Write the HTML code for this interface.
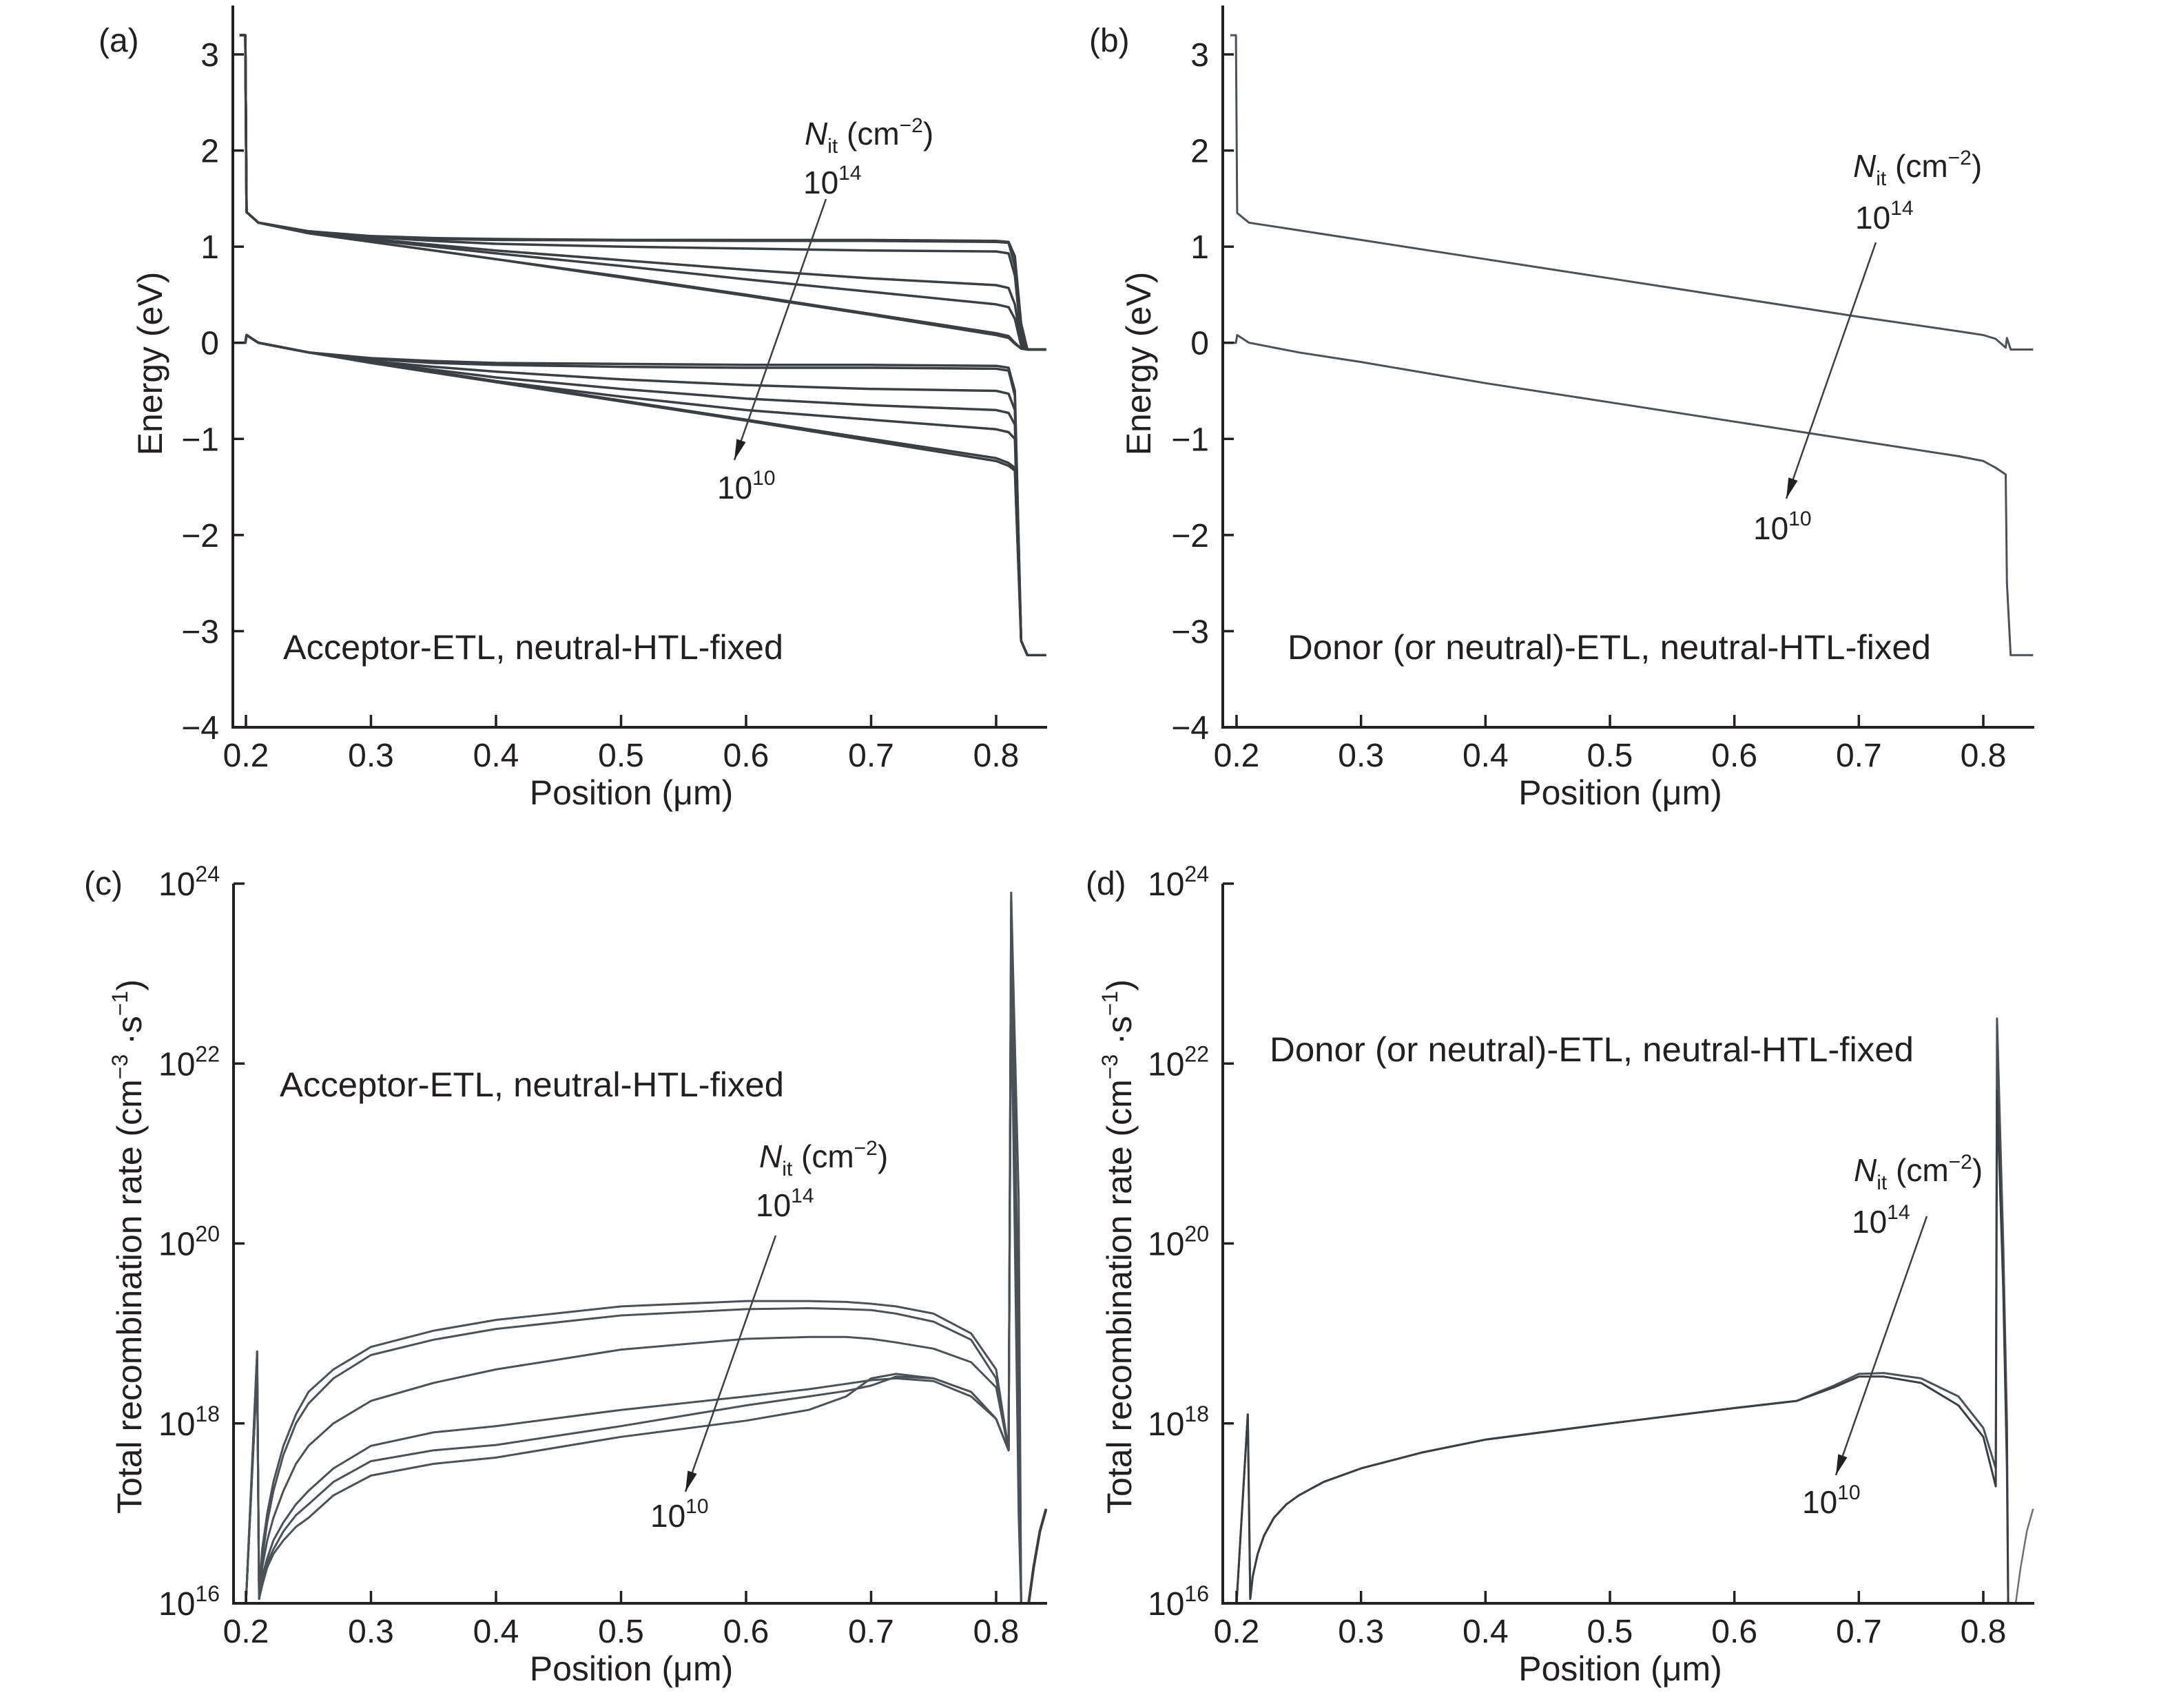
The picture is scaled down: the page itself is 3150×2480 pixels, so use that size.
<!DOCTYPE html>
<html><head><meta charset="utf-8"><style>
html,body{margin:0;padding:0;background:#fff;}
svg{display:block;}
text{font-family:"Liberation Sans",sans-serif;fill:#231f20;}
</style></head><body>
<svg id="fig" width="3150" height="2480" viewBox="0 0 3150 2480" xmlns="http://www.w3.org/2000/svg"></svg>
<script>
// ---------- DATA ----------
const energyX = [0.195,0.1995,0.2005,0.21,0.25,0.3,0.35,0.4,0.5,0.6,0.7,0.8,0.81,0.815,0.82,0.825,0.84];
const ecA1 = [3.2,3.2,1.36,1.25,1.16,1.11,1.09,1.08,1.07,1.07,1.07,1.06,1.05,0.9,0.2,-0.07,-0.07];
const ecA2 = [3.2,3.2,1.36,1.25,1.16,1.10,1.08,1.07,1.065,1.06,1.06,1.05,1.04,0.8,0.1,-0.07,-0.07];
const ecA3 = [3.2,3.2,1.36,1.25,1.16,1.10,1.06,1.03,1.0,0.98,0.96,0.95,0.93,0.7,0.05,-0.07,-0.07];
const ecA4 = [3.2,3.2,1.36,1.25,1.15,1.08,1.02,0.96,0.86,0.76,0.67,0.6,0.57,0.4,0.0,-0.07,-0.07];
const ecA5 = [3.2,3.2,1.36,1.25,1.15,1.07,1.0,0.93,0.8,0.66,0.53,0.4,0.37,0.25,-0.03,-0.07,-0.07];
const ecA6 = [3.2,3.2,1.36,1.25,1.14,1.05,0.96,0.87,0.69,0.5,0.3,0.1,0.07,0.0,-0.06,-0.07,-0.07];
const ecA7 = [3.2,3.2,1.36,1.25,1.14,1.05,0.96,0.87,0.68,0.49,0.29,0.08,0.05,-0.01,-0.06,-0.07,-0.07];
const evA1 = [0,0,0.08,0.0,-0.1,-0.16,-0.19,-0.21,-0.22,-0.23,-0.23,-0.24,-0.26,-0.5,-3.1,-3.25,-3.25];
const evA2 = [0,0,0.08,0.0,-0.1,-0.17,-0.21,-0.23,-0.25,-0.26,-0.26,-0.27,-0.29,-0.55,-3.1,-3.25,-3.25];
const evA3 = [0,0,0.08,0.0,-0.1,-0.19,-0.25,-0.3,-0.38,-0.44,-0.48,-0.5,-0.53,-0.7,-3.1,-3.25,-3.25];
const evA4 = [0,0,0.08,0.0,-0.1,-0.2,-0.28,-0.36,-0.48,-0.58,-0.65,-0.7,-0.73,-0.85,-3.1,-3.25,-3.25];
const evA5 = [0,0,0.08,0.0,-0.1,-0.2,-0.3,-0.4,-0.56,-0.7,-0.8,-0.9,-0.93,-1.0,-3.1,-3.25,-3.25];
const evA6 = [0,0,0.08,0.0,-0.1,-0.2,-0.3,-0.4,-0.6,-0.8,-1.0,-1.2,-1.25,-1.3,-3.1,-3.25,-3.25];
const evA7 = [0,0,0.08,0.0,-0.1,-0.21,-0.31,-0.41,-0.61,-0.81,-1.02,-1.23,-1.28,-1.33,-3.1,-3.25,-3.25];

const energyXB = [0.195,0.1995,0.2005,0.21,0.25,0.3,0.4,0.5,0.6,0.7,0.78,0.8,0.81,0.818,0.819,0.822,0.84];
const ecB = [3.2,3.2,1.35,1.25,1.17,1.07,0.87,0.67,0.47,0.27,0.12,0.08,0.04,-0.05,0.05,-0.07,-0.07];
const evB = [0,0,0.08,0.0,-0.1,-0.2,-0.42,-0.62,-0.82,-1.02,-1.18,-1.23,-1.3,-1.37,-2.5,-3.25,-3.25];

const recX = [0.2,0.209,0.2105,0.213,0.217,0.222,0.23,0.24,0.25,0.27,0.3,0.35,0.4,0.5,0.6,0.65,0.68,0.7,0.72,0.75,0.78,0.8,0.81,0.812,0.818,0.82];
const recC1 = [16,18.8,16.05,16.6,17.0,17.35,17.75,18.1,18.35,18.6,18.85,19.03,19.15,19.3,19.36,19.36,19.35,19.33,19.3,19.22,19.0,18.6,17.7,23.9,20.5,16];
const recC2 = [16,18.8,16.05,16.5,16.9,17.25,17.65,18.0,18.22,18.5,18.76,18.93,19.05,19.2,19.27,19.28,19.27,19.26,19.22,19.13,18.93,18.5,17.7,23.8,19.0,16];
const recC3 = [16,18.7,16.05,16.4,16.7,16.95,17.25,17.55,17.75,18.0,18.25,18.45,18.6,18.82,18.94,18.96,18.96,18.94,18.9,18.83,18.68,18.4,17.7,23.6,18.5,16];
const recC4 = [16,18.7,16.05,16.3,16.5,16.7,16.9,17.1,17.25,17.5,17.75,17.9,17.97,18.15,18.3,18.38,18.44,18.48,18.5,18.47,18.3,18.05,17.7,23.4,18.0,16];
const recC5 = [16,18.6,16.05,16.25,16.45,16.6,16.8,16.98,17.1,17.35,17.58,17.7,17.76,17.97,18.2,18.3,18.36,18.42,18.52,18.5,18.35,18.05,17.7,23.2,17.5,16];
const recC6 = [16,18.6,16.05,16.2,16.4,16.55,16.7,16.85,16.95,17.2,17.42,17.55,17.62,17.85,18.03,18.15,18.3,18.5,18.55,18.5,18.35,18.05,17.7,23.0,17.0,16];
const tailX = [0.826,0.83,0.835,0.84];
const tailC = [16,16.4,16.8,17.05];

const recXD = [0.2,0.209,0.211,0.213,0.217,0.222,0.23,0.24,0.25,0.27,0.3,0.35,0.4,0.5,0.6,0.65,0.68,0.7,0.72,0.75,0.78,0.8,0.81,0.811,0.816,0.819,0.82];
const recD1 = [16,18.1,16.05,16.3,16.55,16.75,16.95,17.1,17.2,17.35,17.5,17.68,17.82,18.0,18.17,18.25,18.42,18.55,18.56,18.5,18.3,17.95,17.5,22.5,20.0,18.0,16];
const recD2 = [16,18.1,16.05,16.3,16.55,16.75,16.95,17.1,17.2,17.35,17.5,17.68,17.82,18.0,18.17,18.25,18.4,18.52,18.52,18.45,18.2,17.85,17.3,21.7,19.5,17.5,16];
const tailD = [16,16.4,16.8,17.05];

const energyTicks = [3,2,1,0,-1,-2,-3,-4];
const energyTickLabels = ["3","2","1","0","\u22121","\u22122","\u22123","\u22124"];
const posTicks = [0.2,0.3,0.4,0.5,0.6,0.7,0.8];
const posTickLabels = ["0.2","0.3","0.4","0.5","0.6","0.7","0.8"];
const logTicks = [24,22,20,18,16];
const logTickExp = ["24","22","20","18","16"];

// ---------- DRAWING ----------
const NS = "http://www.w3.org/2000/svg";
const svg = document.getElementById('fig');
function mk(tag, attrs, parent){
  const e = document.createElementNS(NS, tag);
  for (const k in attrs) e.setAttribute(k, attrs[k]);
  (parent||svg).appendChild(e);
  return e;
}
function makeScale(d0,d1,r0,r1){ return v => r0 + (v-d0)*(r1-r0)/(d1-d0); }

function panel(cfg){
  const g = mk('g', {});
  
  
  const xs = makeScale(0.2,0.8,cfg.x02,cfg.x08);
  const ys = makeScale(cfg.yd0,cfg.yd1,cfg.yr0,cfg.yr1);
  const clipId = cfg.name+'-clip';
  const cp = mk('clipPath',{id:clipId}, g);
  mk('rect',{x:cfg.axX,y:cfg.axTop,width:cfg.axRight-cfg.axX,height:cfg.axBottom-cfg.axTop}, cp);
  const sg = mk('g',{'clip-path':'url(#'+clipId+')'}, g);
  cfg.series.forEach((s,i)=>{
    const d = s.x.map((xv,j)=>(j?'L':'M')+xs(xv).toFixed(1)+','+ys(s.y[j]).toFixed(1)).join(' ');
    const p = mk('path',{d:d,fill:'none',stroke:s.c||'#3a3f44','stroke-width':s.w||3.5,'stroke-linejoin':'round'}, sg);
    
    
  });
  const ax = mk('path',{d:`M${cfg.axX},${cfg.axTop} L${cfg.axX},${cfg.axBottom} L${cfg.axRight},${cfg.axBottom}`,fill:'none',stroke:'#231f20','stroke-width':4}, g);
  
  
  posTicks.forEach((t,i)=>{
    const x = xs(t);
    const tk = mk('line',{x1:x,x2:x,y1:cfg.axBottom,y2:cfg.axBottom-18,stroke:'#231f20','stroke-width':3.5}, g);
    
    
    const tl = mk('text',{x:x,y:cfg.axBottom+57,'text-anchor':'middle','font-size':48}, g);
    tl.textContent = posTickLabels[i];
    
    
  });
  cfg.yTicks.forEach((t,i)=>{
    const y = ys(t);
    const tk = mk('line',{x1:cfg.axX,x2:cfg.axX+16,y1:y,y2:y,stroke:'#231f20','stroke-width':3.5}, g);
    
    
    const tl = mk('text',{x:cfg.axX-20,y:y+17,'text-anchor':'end','font-size':48}, g);
    
    
    if (cfg.log){
      tl.appendChild(document.createTextNode('10'));
      const sp = mk('tspan',{'font-size':32,dy:-20}, tl);
      sp.textContent = logTickExp[i];
    } else tl.textContent = energyTickLabels[i];
  });
  const xl = mk('text',{x:(cfg.x02+cfg.x08)/2+15,y:cfg.axBottom+112,'text-anchor':'middle','font-size':50}, g);
  xl.textContent = 'Position (\u03bcm)';
  
  
  const yl = mk('text',{x:0,y:0,'text-anchor':'middle','font-size':50,transform:`translate(${cfg.ylX},${cfg.ylY}) rotate(-90)`}, g);
  
  
  if (cfg.log){
    yl.appendChild(document.createTextNode('Total recombination rate (cm'));
    const a = mk('tspan',{'font-size':32,dy:-20}, yl); a.textContent='\u22123';
    const b = mk('tspan',{dy:20}, yl); b.textContent=' \u00b7s';
    const c = mk('tspan',{'font-size':32,dy:-20}, yl); c.textContent='\u22121';
    const d = mk('tspan',{dy:20}, yl); d.textContent=')';
  } else yl.textContent = 'Energy (eV)';
  const pl = mk('text',{x:cfg.plX,y:cfg.plY,'font-size':48}, g);
  pl.textContent = cfg.letter;
  
  
  const ct = mk('text',{x:cfg.ctX,y:cfg.ctY,'font-size':50,textLength:cfg.ctW,lengthAdjust:'spacingAndGlyphs'}, g);
  ct.textContent = cfg.caption;
  
  
  const n1 = mk('text',{x:cfg.nX,y:cfg.nY,'font-size':46}, g);
  
  
  const ni = mk('tspan',{'font-style':'italic'}, n1); ni.textContent='N';
  const nsub = mk('tspan',{'font-size':30,dy:12}, n1); nsub.textContent='it';
  const nr = mk('tspan',{dy:-12}, n1); nr.textContent=' (cm';
  const ne = mk('tspan',{'font-size':30,dy:-18}, n1); ne.textContent='\u22122';
  const nc = mk('tspan',{dy:18}, n1); nc.textContent=')';
  [[cfg.hX,cfg.hY,'14','nit-high-label'],[cfg.lX,cfg.lY,'10','nit-low-label']].forEach(a=>{
    const t = mk('text',{x:a[0],y:a[1],'font-size':46}, g);
    
    
    t.appendChild(document.createTextNode('10'));
    const s = mk('tspan',{'font-size':30,dy:-20}, t); s.textContent=a[2];
  });
  const [x1,y1,x2,y2] = cfg.arrow;
  const ar = mk('line',{x1:x1,y1:y1,x2:x2,y2:y2,stroke:'#3a3f44','stroke-width':2.5}, g);
  
  
  const ang = Math.atan2(y2-y1,x2-x1), L=30, W=7;
  const bx = x2-L*Math.cos(ang), by = y2-L*Math.sin(ang);
  const hd = mk('polygon',{points:`${x2},${y2} ${bx+W*Math.sin(ang)},${by-W*Math.cos(ang)} ${bx-W*Math.sin(ang)},${by+W*Math.cos(ang)}`,fill:'#231f20'}, g);
  
  
}

const ecA = [ecA1,ecA2,ecA3,ecA4,ecA5,ecA6,ecA7], evA=[evA1,evA2,evA3,evA4,evA5,evA6,evA7];
const recC = [recC1,recC2,recC3,recC4,recC5,recC6];

panel({name:'panel-a',letter:'(a)',x02:357,x08:1446,yd0:3,yd1:-4,yr0:79,yr1:1056,
  axX:338,axTop:8,axBottom:1056,axRight:1520,yTicks:energyTicks,log:false,
  ylX:235,ylY:528,plX:143,plY:75,caption:'Acceptor-ETL, neutral-HTL-fixed',ctX:411,ctY:957,ctW:726,
  nX:1168,nY:210,hX:1166,hY:281,lX:1041,lY:724,arrow:[1199,289,1066,668],
  series:[...ecA.map((y,i)=>({x:energyX,y:y,n:'ec-curve-'+(i+1)})),...evA.map((y,i)=>({x:energyX,y:y,n:'ev-curve-'+(i+1)}))]});

panel({name:'panel-b',letter:'(b)',x02:1795,x08:2879,yd0:3,yd1:-4,yr0:79,yr1:1056,
  axX:1775,axTop:8,axBottom:1056,axRight:2953,yTicks:energyTicks,log:false,
  ylX:1670,ylY:528,plX:1581,plY:75,caption:'Donor (or neutral)-ETL, neutral-HTL-fixed',ctX:1869,ctY:957,ctW:934,
  nX:2690,nY:257,hX:2693,hY:332,lX:2545,lY:783,arrow:[2723,352,2593,724],
  series:[{x:energyXB,y:ecB,n:'ec-curve',c:'#4a5257',w:3},{x:energyXB,y:evB,n:'ev-curve',c:'#4a5257',w:3}]});

panel({name:'panel-c',letter:'(c)',x02:357,x08:1446,yd0:24,yd1:16,yr0:1283,yr1:2328,
  axX:339,axTop:1283,axBottom:2328,axRight:1520,yTicks:logTicks,log:true,
  ylX:205,ylY:1810,plX:122,plY:1299,caption:'Acceptor-ETL, neutral-HTL-fixed',ctX:406,ctY:1592,ctW:732,
  nX:1102,nY:1695,hX:1097,hY:1766,lX:944,lY:2217,arrow:[1126,1794,995,2166],
  series:[...recC.map((y,i)=>({x:recX,y:y,n:'recombination-curve-'+(i+1),c:'#4a5257',w:3})),
    {x:tailX,y:tailC,n:'recombination-tail',c:'#3a3f44',w:4}]});

panel({name:'panel-d',letter:'(d)',x02:1795,x08:2879,yd0:24,yd1:16,yr0:1283,yr1:2328,
  axX:1775,axTop:1283,axBottom:2328,axRight:2953,yTicks:logTicks,log:true,
  ylX:1642,ylY:1810,plX:1576,plY:1299,caption:'Donor (or neutral)-ETL, neutral-HTL-fixed',ctX:1843,ctY:1541,ctW:935,
  nX:2691,nY:1715,hX:2688,hY:1790,lX:2616,lY:2197,arrow:[2797,1766,2665,2142],
  series:[{x:recXD,y:recD1,n:'recombination-curve-1',c:'#4a5257',w:3},{x:recXD,y:recD2,n:'recombination-curve-2',c:'#3a3f44',w:3},
    {x:tailX,y:tailD,n:'recombination-tail',c:'#6a7075',w:2.5}]});
</script>
</body></html>
